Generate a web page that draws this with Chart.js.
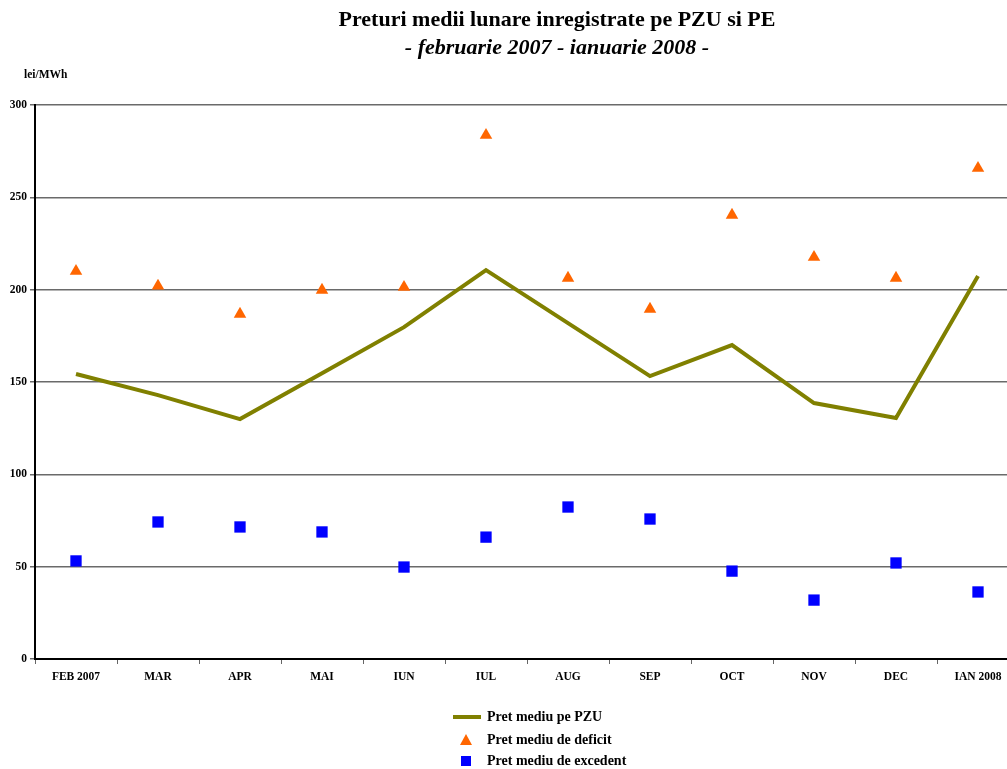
<!DOCTYPE html>
<html><head><meta charset="utf-8">
<script src="https://cdn.jsdelivr.net/npm/chart.js@4"></script>
<style>
html,body{margin:0;padding:0;background:#fff;overflow:hidden;width:1007px;height:769px;}
#c{position:absolute;left:0;top:0;}
.t{position:absolute;font-family:"Liberation Serif","Times New Roman",serif;font-weight:bold;color:#000;white-space:nowrap;}
#t1{left:557px;top:6px;transform:translateX(-50%);font-size:22px;}
#t2{left:557px;top:34px;transform:translateX(-50%);font-size:22px;font-style:italic;}
#unit{left:24px;top:68px;font-size:11.5px;}
.lg{position:absolute;font-family:"Liberation Serif","Times New Roman",serif;font-weight:bold;font-size:14px;color:#000;white-space:nowrap;}
</style></head>
<body>
<canvas id="c" width="1027" height="769"></canvas>
<div class="t" id="t1">Preturi medii lunare inregistrate pe PZU si PE</div>
<div class="t" id="t2">- februarie 2007 - ianuarie 2008 -</div>
<div class="t" id="unit">lei/MWh</div>
<div id="legend"></div>
<script>
const categories = ["FEB 2007","MAR","APR","MAI","IUN","IUL","AUG","SEP","OCT","NOV","DEC","IAN 2008"];
const pretPZU = [154.3,142.9,129.9,154.8,179.7,210.6,181.9,153.2,170.0,138.6,130.5,207.4];
const pretDeficit = [210.0,202.0,186.8,199.8,201.4,283.7,206.3,189.5,240.4,217.6,206.3,265.8];
const pretExcedent = [53.1,74.2,71.5,68.8,49.8,66.0,82.3,75.8,47.6,31.9,52.0,36.3];
const seriesNames = ["Pret mediu pe PZU","Pret mediu de deficit","Pret mediu de excedent"];
const yTicks = [0,50,100,150,200,250,300];

const FONT = "'Liberation Serif','Times New Roman',serif";
const OLIVE = "#808000", ORANGE = "#FF6600", BLUE = "#0000FF";

new Chart(document.getElementById('c'), {
  type: 'line',
  data: {
    labels: categories,
    datasets: [
      {label: seriesNames[0], data: pretPZU, borderColor: OLIVE, borderWidth: 4, pointRadius: 0, tension: 0, fill: false, order: 3},
      {label: seriesNames[1], data: pretDeficit, showLine: false, pointStyle: 'triangle', pointRadius: 7.2, backgroundColor: ORANGE, borderColor: ORANGE, borderWidth: 0, order: 2},
      {label: seriesNames[2], data: pretExcedent, showLine: false, pointStyle: 'rect', pointRadius: 8, backgroundColor: BLUE, borderColor: BLUE, borderWidth: 0, order: 1}
    ]
  },
  options: {
    responsive: false,
    maintainAspectRatio: false,
    devicePixelRatio: 1,
    animation: false,
    layout: {padding: {left: 0, right: 0, top: 105, bottom: 70}},
    plugins: {legend: {display: false}, title: {display: false}, tooltip: {enabled: false}},
    scales: {
      x: {
        offset: true,
        grid: {offset: true, drawOnChartArea: false, drawTicks: true, tickLength: 5, color: '#666'},
        border: {color: '#000', width: 2},
        ticks: {font: {family: FONT, size: 11.5, weight: 'bold'}, color: '#000', padding: 6, maxRotation: 0, autoSkip: false},
        afterFit: s => { s.height = 40; }
      },
      y: {
        min: 0, max: 300,
        afterBuildTicks: s => { s.ticks = yTicks.map(v => ({value: v})); },
        grid: {color: '#6a6a6a', lineWidth: 1.5, tickLength: 5, drawTicks: true},
        border: {color: '#000', width: 2},
        ticks: {font: {family: FONT, size: 11.5, weight: 'bold'}, color: '#000', padding: 3},
        afterFit: s => { s.width = 35; }
      }
    }
  }
});

// HTML legend
const lg = document.getElementById('legend');
const rows = [
  {y: 709, marker: '<div style="position:absolute;left:453px;top:715px;width:28px;height:4px;background:'+OLIVE+'"></div>'},
  {y: 732, marker: '<div style="position:absolute;left:460px;top:734px;width:0;height:0;border-left:6px solid transparent;border-right:6px solid transparent;border-bottom:11px solid '+ORANGE+'"></div>'},
  {y: 753, marker: '<div style="position:absolute;left:461px;top:756px;width:10px;height:10px;background:'+BLUE+'"></div>'}
];
let html = '';
rows.forEach((r,i) => {
  html += r.marker + '<div class="lg" style="left:487px;top:'+r.y+'px">'+seriesNames[i]+'</div>';
});
lg.innerHTML = html;
</script>
</body></html>
